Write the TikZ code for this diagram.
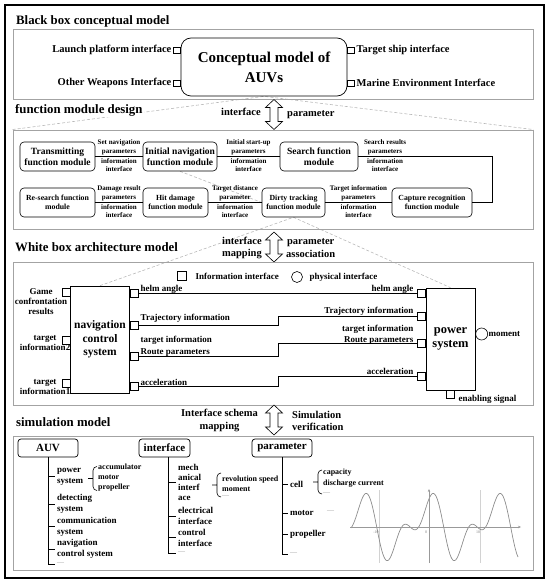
\documentclass[tikz,border=0pt]{standalone}
\usepackage{fontspec}
\setmainfont{Liberation Serif}
\usetikzlibrary{arrows.meta,positioning,calc,backgrounds}
\definecolor{framegray}{HTML}{A3A3A3}
\definecolor{zoomgray}{HTML}{B8B8B8}
\definecolor{curvegray}{HTML}{8C8C8C}
\newcommand{\fsz}[2]{\fontsize{#1}{#2}\selectfont\bfseries}

\begin{document}
\begin{tikzpicture}[x=1pt,y=-1pt,
  sec/.style={draw=framegray,line width=0.9pt,inner sep=0},
  sectitle/.style={anchor=west,fill=white,inner sep=1pt,font=\fsz{12.8}{15}},
  concept/.style={draw,rounded corners=10pt,line width=0.7pt,minimum width=166pt,minimum height=58pt,align=center,font=\fsz{15}{20}},
  side/.style={inner sep=1.5pt,font=\fsz{10.5}{12}},
  modl/.style={draw,rounded corners=4pt,line width=0.6pt,minimum height=29pt,align=center,inner sep=1pt,font=\fsz{9.5}{11}},
  mods/.style={modl,font=\fsz{7.8}{9.5}},
  lbl/.style={align=center,inner sep=0.5pt,font=\fsz{7}{8.5}},
  link/.style={align=center,inner sep=1pt,font=\fsz{10.5}{12.5}},
  port/.style={draw,line width=0.6pt,minimum size=8pt,inner sep=0},
  pport/.style={draw,circle,line width=0.6pt,minimum size=11pt,inner sep=0},
  zoomln/.style={densely dashed,zoomgray,line width=0.6pt},
  wire/.style={line width=0.6pt},
  sysbox/.style={draw,line width=0.7pt,align=center},
  sig/.style={inner sep=0.5pt,font=\fsz{9}{10}},
  rootbox/.style={draw,rounded corners=3pt,line width=0.7pt,minimum height=18pt,inner sep=1pt,font=\fsz{11}{12}},
  itemtxt/.style={anchor=west,align=left,inner xsep=2pt,inner ysep=0,font=\fsz{9}{11}},
  subtxt/.style={anchor=west,inner xsep=1pt,inner ysep=0,font=\fsz{8}{9}},
  moretxt/.style={anchor=west,inner xsep=2pt,inner ysep=0,text=gray!60,font=\fsz{7}{8}},
  dblarrow/.pic={\draw[line width=0.6pt,fill=white] (0,-15) -- (8.5,-7) -- (4,-7) -- (4,7) -- (8.5,7) -- (0,15) -- (-8.5,7) -- (-4,7) -- (-4,-7) -- (-8.5,-7) -- cycle;},
  brk/.pic={\draw[wire] (-5,0) -- (0,0) (4,-12) to[out=180,in=90] (0,-8) -- (0,8) to[out=-90,in=180] (4,12);}
  ]
\useasboundingbox (0,0) rectangle (550,585);
\draw[line width=1.6pt] (5,5) rectangle (544,578);

% black box
\node[sectitle] (t1) at (15,21) {Black box conceptual model};
\node[sec,minimum width=520pt,minimum height=70pt] (s1) at (273,64) {};
\node[concept] (concept) at (264,67) {Conceptual model of\\AUVs};
\node[port,minimum width=7pt,minimum height=6pt,anchor=east] (lp) at (concept.west |- 0,50) {};
\node[side,anchor=east] (lpt) at (lp.west) {Launch platform interface};
\node[port,minimum width=7pt,minimum height=6pt,anchor=east] (wp) at (concept.west |- 0,83) {};
\node[side,anchor=east] (wpt) at (wp.west) {Other Weapons Interface};
\node[port,minimum width=7pt,minimum height=6pt,anchor=west] (tp) at (concept.east |- 0,50) {};
\node[side,anchor=west] (tpt) at (tp.east) {Target ship interface};
\node[port,minimum width=7pt,minimum height=6pt,anchor=west] (mp) at (concept.east |- 0,83) {};
\node[side,anchor=west] (mpt) at (mp.east) {Marine Environment Interface};

\pic (ar1) at (274,114.5) {dblarrow};
\node[link,anchor=east] (ar1a) at (262,112) {interface};
\node[link,anchor=west] (ar1b) at (286,115) {parameter};

% function modules
\node[sectitle] (t2) at (14,110) {function module design};
\node[sec,minimum width=520pt,minimum height=99pt] (s2) at (273,179.5) {};
\node[modl,minimum width=75pt] (trans) at (57.5,156.5) {Transmitting\\function module};
\node[modl,minimum width=74pt] (inav) at (180,156.5) {Initial navigation\\function module};
\node[modl,minimum width=78pt] (search) at (319,156.5) {Search function\\module};
\node[mods,minimum width=75pt] (research) at (57.5,202.5) {Re-search function\\module};
\node[mods,minimum width=65pt] (hit) at (175.5,202.5) {Hit damage\\function module};
\node[mods,minimum width=63pt] (dirty) at (293.5,202.5) {Dirty tracking\\function module};
\node[mods,minimum width=80pt] (capture) at (432,202.5) {Capture recognition\\function module};
\coordinate (rx) at (492,0);
\draw[wire] (trans) -- node[lbl,above=1pt]{Set navigation\\parameters} node[lbl,below=1pt]{information\\interface} (inav);
\draw[wire] (inav) -- node[lbl,above=1pt]{Initial start-up\\parameters} node[lbl,below=1pt]{information\\interface} (search);
\draw[wire] (search.east) -- node[lbl,pos=0.2,above=1pt]{Search results\\parameters} node[lbl,pos=0.2,below=1pt]{information\\interface} (search.east -| rx) |- (capture.east);
\draw[wire] (research) -- node[lbl,above=1pt]{Damage result\\parameters} node[lbl,below=1pt]{information\\interface} (hit);
\draw[wire] (hit) -- node[lbl,above=1pt]{Target distance\\parameter} node[lbl,below=1pt]{information\\interface} (dirty);
\draw[wire] (dirty) -- node[lbl,above=1pt]{Target information\\parameters} node[lbl,below=1pt]{information\\interface} (capture);

\pic (ar2) at (274,247) {dblarrow};
\node[link,anchor=east] (ar2a) at (263,248) {interface\\mapping};
\node[link,anchor=west] (ar2b) at (285,248) {parameter\\association};

% white box
\node[sectitle] (t3) at (14,247) {White box architecture model};
\node[sec,minimum width=520pt,minimum height=143pt] (s3) at (273,333.5) {};
\node[port,minimum size=9pt] (lg1) at (182,276) {};
\node[sig,anchor=west] (lg1t) at (195,276) {Information interface};
\node[pport] (lg2) at (297,277) {};
\node[sig,anchor=west] (lg2t) at (309,277) {physical interface};
\node[sysbox,minimum width=56pt,minimum height=107pt,font=\fsz{11.5}{13.5}] (nav) at (100,339.5) {navigation\\control\\system};
\node[sysbox,minimum width=49pt,minimum height=102pt,font=\fsz{12.5}{14.5}] (power) at (450.5,339) {power\\system};
\node[port,anchor=east] (gp1) at (nav.west |- 0,292) {};
\node[port,anchor=east] (gp2) at (nav.west |- 0,340.5) {};
\node[port,anchor=east] (gp3) at (nav.west |- 0,383.5) {};
\node[sig,align=center] (gp1t) at (41,301.5) {Game\\confrontation\\results};
\node[sig,align=center] (gp2t) at (45,343.5) {target\\information2};
\node[sig,align=center] (gp3t) at (45,387.5) {target\\information1};
\node[port,anchor=west] (np1) at (nav.east |- 0,293.5) {};
\node[port,anchor=west] (np2) at (nav.east |- 0,325) {};
\node[port,anchor=west] (np3) at (nav.east |- 0,356) {};
\node[port,anchor=west] (np4) at (nav.east |- 0,386) {};
\node[port,anchor=east] (pp1) at (power.west |- 0,293.5) {};
\node[port,anchor=east] (pp2) at (power.west |- 0,316.5) {};
\node[port,anchor=east] (pp3) at (power.west |- 0,343.5) {};
\node[port,anchor=east] (pp4) at (power.west |- 0,376) {};
\coordinate (stepx) at (278,0);
\draw[wire] (np1) -- (pp1);
\draw[wire] (np2.east) -- (np2.east -| stepx) |- (pp2.west);
\draw[wire] (np3.east) -- (np3.east -| stepx) |- (pp3.west);
\draw[wire] (np4.east) -- (np4.east -| stepx) |- (pp4.west);
\node[sig,anchor=base west] (n1t) at (140,291.5) {helm angle};
\node[sig,anchor=base west] (n2t) at (140,320) {Trajectory information};
\node[sig,anchor=base west] (n3t) at (140,342) {target information};
\node[sig,anchor=base west] (n4t) at (140,354) {Route parameters};
\node[sig,anchor=base west] (n5t) at (140,385) {acceleration};
\node[sig,anchor=base east] (p1t) at (414,291) {helm angle};
\node[sig,anchor=base east] (p2t) at (414,313) {Trajectory information};
\node[sig,anchor=base east] (p3t) at (414,331) {target information};
\node[sig,anchor=base east] (p4t) at (414,342) {Route parameters};
\node[sig,anchor=base east] (p5t) at (414,374) {acceleration};
\node[pport,minimum size=12pt,anchor=west] (mom) at (power.east |- 0,334) {};
\node[sig,anchor=west] (momt) at (mom.east) {moment};
\node[port,anchor=north] (en) at (power.south) {};
\node[sig,anchor=west] (ent) at (458,399.5) {enabling signal};

\pic (ar3) at (274,420) {dblarrow};
\node[link] (ar3a) at (219.5,420.5) {Interface schema\\mapping};
\node[link,anchor=west,align=left] (ar3b) at (291,421) {Simulation\\verification};

% simulation model
\node[sectitle] (t4) at (15,422) {simulation model};
\node[sec,minimum width=520pt,minimum height=134pt] (s4) at (273,503) {};
\node[rootbox,minimum width=60pt] (auv) at (48,448) {AUV};
\node[rootbox,minimum width=51pt] (itf) at (164.5,448) {interface};
\node[rootbox,minimum width=60pt] (par) at (282,448) {parameter};

\node[itemtxt] (a1) at (55,476.5) {power\\system};
\node[itemtxt] (a2) at (55,504) {detecting\\system};
\node[itemtxt] (a3) at (55,526.5) {communication\\system};
\node[itemtxt] (a4) at (55,549) {navigation\\control system};
\node[moretxt] (a5) at (55,564) {\textemdash};
\draw[wire] (auv.south) |- (a5.west);
\foreach \n in {a1,a2,a3,a4} \draw[wire] (auv.south |- \n.west) -- (\n.west);
\pic at (93,478.5) {brk};
\node[subtxt] (a11) at (97,467) {accumulator};
\node[subtxt] (a12) at (97,477.5) {motor};
\node[subtxt] (a13) at (97,488) {propeller};

\node[itemtxt,font=\fsz{9}{10}] (b1) at (176,482) {mech\\anical\\interf\\ace};
\node[itemtxt] (b2) at (176,516) {electrical\\interface};
\node[itemtxt] (b3) at (176,537.5) {control\\interface};
\node[moretxt] (b4) at (176,553) {\textemdash};
\draw[wire] (itf.south) ++(4,0) coordinate (itfr) |- (b4.west);
\foreach \n in {b1,b2,b3} \draw[wire] (itfr |- \n.west) -- (\n.west);
\pic at (217,485) {brk};
\node[subtxt] (b11) at (221,480) {revolution speed};
\node[subtxt] (b12) at (221,489) {moment};
\node[moretxt,inner xsep=1pt] (b13) at (221,497) {\textemdash};

\node[itemtxt] (c1) at (288,484) {cell};
\node[itemtxt] (c2) at (288,513) {motor};
\node[itemtxt] (c3) at (288,534) {propeller};
\node[moretxt] (c4) at (288,554) {\textemdash};
\node[moretxt] (c21) at (325,512) {\textemdash};
\draw[wire] (par.south) |- (c4.west);
\foreach \n in {c1,c2,c3} \draw[wire] (par.south |- \n.west) -- (\n.west);
\pic at (318,482) {brk};
\node[subtxt] (c11) at (322,473) {capacity};
\node[subtxt] (c12) at (322,484) {discharge current};
\node[moretxt,inner xsep=1pt] (c13) at (322,494) {\textemdash};

% curve
\begin{scope}
\clip (348,488) rectangle (524,563);
\draw[gray!35,line width=0.4pt] (379,490) -- (379,563) (480,490) -- (480,563);
\draw[curvegray,line width=0.7pt] plot[domain=351:518,samples=200] (\x,{527+16.1*sin(deg(5.28+(\x-433)*0.0938))*(2*cos(deg(5.28+(\x-433)*0.0938))+1.4)});
\end{scope}
\draw[gray!80,line width=0.4pt,-{Stealth[length=3pt,width=2.5pt]}] (350,527) -- (521,527);
\draw[gray!80,line width=0.4pt,-{Stealth[length=3pt,width=2.5pt]}] (429,563) -- (429,489);
\node[font=\fontsize{4}{5}\selectfont,text=gray,inner sep=0] (tk1) at (376,532) {-10};
\node[font=\fontsize{4}{5}\selectfont,text=gray,inner sep=0] (tk2) at (426,532) {0};
\node[font=\fontsize{4}{5}\selectfont,text=gray,inner sep=0] (tk3) at (478,532) {10};

% zoom lines
\begin{scope}[on background layer]
\draw[zoomln] (s2.north west) -- (concept.south) -- (s2.north east);
\draw[zoomln] (inav.south) -- (dirty.west);
\draw[zoomln] (nav.north) -- (dirty.south) -- (power.north);
\end{scope}
\end{tikzpicture}
\end{document}
